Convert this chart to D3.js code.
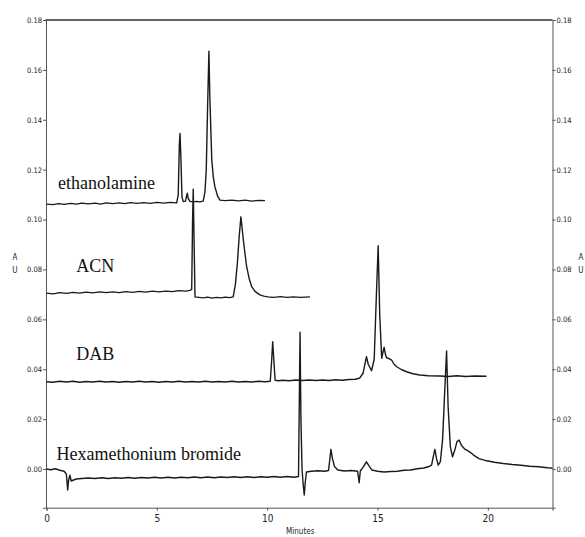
<!DOCTYPE html>
<html lang="en">
<head>
  <meta charset="utf-8">
  <title>Chromatograms</title>
  <style>
    body { margin: 0; background: #fff; }
    svg { display: block; }
    .tick text, .unit { font-family: "Liberation Sans Narrow", "DejaVu Sans Condensed", sans-serif; fill: #222; }
    .trace-label { font-family: "Liberation Serif", "DejaVu Serif", serif; font-size: 18px; fill: #111; }
  </style>
</head>
<body>
  <div id="chart"></div>
  <script src="https://d3js.org/d3.v7.min.js"></script>
  <script>
// [minutes, AU]
const ethanolamine = [
  [0,0.1062],[0.3,0.1060],[0.55,0.1064],[0.8,0.1061],[1.1,0.1065],[1.35,0.1062],[1.6,0.1066],[1.9,0.1063],
  [2.2,0.1066],[2.45,0.1062],[2.7,0.1067],[3.0,0.1064],[3.3,0.1067],[3.55,0.1064],[3.8,0.1068],[4.1,0.1065],
  [4.4,0.1068],[4.7,0.1065],[5.0,0.1069],[5.3,0.1066],[5.6,0.1069],[5.9,0.1067],[5.97,0.1100],[6.02,0.1300],
  [6.05,0.1345],[6.09,0.1250],[6.14,0.1090],[6.2,0.1072],[6.3,0.1074],[6.35,0.1095],[6.38,0.1106],[6.42,0.1085],
  [6.5,0.1073],[6.65,0.1071],[6.8,0.1073],[6.95,0.1071],[7.1,0.1074],[7.18,0.1110],[7.24,0.1200],[7.30,0.1450],
  [7.36,0.1675],[7.40,0.1500],[7.45,0.1350],[7.49,0.1239],[7.56,0.1170],[7.63,0.1132],[7.75,0.1095],[7.86,0.1078],
  [8.1,0.1076],[8.4,0.1078],[8.7,0.1075],[9.0,0.1078],[9.3,0.1074],[9.6,0.1077],[9.9,0.1076]
];

const acn = [
  [0,0.0705],[0.3,0.0702],[0.6,0.0707],[0.9,0.0704],[1.2,0.0708],[1.5,0.0705],[1.8,0.0709],[2.1,0.0706],
  [2.4,0.0710],[2.7,0.0707],[3.0,0.0710],[3.3,0.0707],[3.6,0.0711],[3.9,0.0708],[4.2,0.0712],[4.5,0.0709],
  [4.8,0.0713],[5.1,0.0710],[5.4,0.0713],[5.7,0.0711],[6.0,0.0715],[6.3,0.0713],[6.5,0.0716],[6.58,0.0720],
  [6.62,0.1000],[6.65,0.1122],[6.69,0.0900],[6.73,0.0690],[6.9,0.0688],[7.1,0.0686],[7.3,0.0689],[7.5,0.0685],
  [7.7,0.0688],[7.9,0.0686],[8.1,0.0689],[8.3,0.0687],[8.46,0.0690],[8.56,0.0740],[8.65,0.0826],[8.73,0.0930],
  [8.81,0.1011],[8.86,0.0970],[8.92,0.0918],[9.0,0.0860],[9.07,0.0811],[9.18,0.0765],[9.30,0.0731],[9.45,0.0712],
  [9.67,0.0698],[9.85,0.0693],[10.03,0.0690],[10.3,0.0688],[10.6,0.0691],[10.9,0.0688],[11.2,0.0690],[11.5,0.0688],
  [11.94,0.0690]
];

const dab = [
  [0,0.0350],[0.3,0.0348],[0.6,0.0352],[0.9,0.0349],[1.2,0.0352],[1.5,0.0348],[1.8,0.0351],[2.1,0.0349],
  [2.4,0.0352],[2.7,0.0349],[3.0,0.0351],[3.3,0.0348],[3.6,0.0351],[3.9,0.0349],[4.2,0.0352],[4.5,0.0349],
  [4.8,0.0351],[5.1,0.0348],[5.4,0.0351],[5.7,0.0349],[6.0,0.0352],[6.3,0.0349],[6.6,0.0351],[6.9,0.0349],
  [7.2,0.0352],[7.5,0.0349],[7.8,0.0351],[8.1,0.0349],[8.4,0.0352],[8.7,0.0349],[9.0,0.0351],[9.3,0.0349],
  [9.6,0.0352],[9.9,0.0350],[10.14,0.0352],[10.2,0.0430],[10.25,0.0510],[10.3,0.0440],[10.36,0.0356],[10.5,0.0354],
  [10.7,0.0356],[11.0,0.0354],[11.3,0.0357],[11.6,0.0355],[11.9,0.0357],[12.2,0.0355],[12.5,0.0357],[12.8,0.0355],
  [13.1,0.0358],[13.4,0.0356],[13.7,0.0359],[14.0,0.0360],[14.2,0.0365],[14.35,0.0385],[14.45,0.0430],[14.5,0.0450],
  [14.58,0.0420],[14.73,0.0394],[14.85,0.0440],[14.95,0.0700],[15.03,0.0895],[15.1,0.0620],[15.19,0.0444],[15.25,0.0470],
  [15.3,0.0488],[15.36,0.0460],[15.41,0.0446],[15.52,0.0443],[15.64,0.0437],[15.75,0.0420],[15.87,0.0410],[16.1,0.0398],
  [16.32,0.0390],[16.6,0.0382],[16.92,0.0377],[17.3,0.0374],[17.83,0.0373],[18.2,0.0371],[18.6,0.0374],[19.0,0.0371],
  [19.4,0.0373],[19.94,0.0372]
];

const hexamethonium = [
  [0,0.0000],[0.2,-0.0003],[0.4,0.0001],[0.6,-0.0005],[0.8,-0.0009],[0.9,-0.0020],[0.96,-0.0084],[1.0,-0.0045],
  [1.06,-0.0025],[1.12,-0.0048],[1.2,-0.0045],[1.35,-0.0040],[1.6,-0.0038],[1.9,-0.0036],[2.2,-0.0038],[2.5,-0.0035],
  [2.8,-0.0038],[3.1,-0.0035],[3.4,-0.0037],[3.7,-0.0034],[4.0,-0.0037],[4.3,-0.0034],[4.6,-0.0036],[4.9,-0.0033],
  [5.2,-0.0036],[5.5,-0.0033],[5.8,-0.0036],[6.1,-0.0033],[6.4,-0.0035],[6.7,-0.0032],[7.0,-0.0035],[7.3,-0.0032],
  [7.6,-0.0035],[7.9,-0.0032],[8.2,-0.0034],[8.5,-0.0031],[8.8,-0.0034],[9.1,-0.0031],[9.4,-0.0034],[9.7,-0.0031],
  [10.0,-0.0033],[10.3,-0.0030],[10.6,-0.0033],[10.9,-0.0030],[11.2,-0.0033],[11.42,-0.0030],[11.46,0.0300],[11.49,0.0549],
  [11.53,0.0200],[11.58,0.0000],[11.63,-0.0060],[11.68,-0.0104],[11.73,-0.0050],[11.78,-0.0012],[12.0,-0.0009],[12.3,-0.0007],
  [12.6,-0.0009],[12.78,-0.0006],[12.84,0.0040],[12.89,0.0079],[12.95,0.0045],[13.05,0.0010],[13.2,-0.0004],[13.5,-0.0008],
  [13.8,-0.0006],[14.1,-0.0009],[14.17,-0.0055],[14.22,-0.0008],[14.35,0.0008],[14.5,0.0029],[14.6,0.0015],[14.75,-0.0004],
  [15.0,-0.0009],[15.3,-0.0012],[15.6,-0.0010],[15.9,-0.0009],[16.2,-0.0005],[16.5,-0.0004],[16.8,0.0001],[17.1,0.0004],
  [17.3,0.0009],[17.45,0.0016],[17.55,0.0060],[17.6,0.0079],[17.68,0.0040],[17.75,0.0016],[17.85,0.0030],[17.95,0.0120],
  [18.05,0.0320],[18.13,0.0473],[18.2,0.0250],[18.3,0.0090],[18.4,0.0049],[18.5,0.0075],[18.6,0.0110],[18.7,0.0116],
  [18.8,0.0095],[18.95,0.0080],[19.05,0.0076],[19.25,0.0064],[19.35,0.0056],[19.6,0.0042],[19.95,0.0033],[20.3,0.0027],
  [20.7,0.0022],[21.1,0.0018],[21.5,0.0015],[21.9,0.0011],[22.3,0.0009],[22.7,0.0005],[22.93,0.0004]
];

const traceNames = ["ethanolamine", "ACN", "DAB", "Hexamethonium bromide"];
const yTicks = [0, 0.02, 0.04, 0.06, 0.08, 0.10, 0.12, 0.14, 0.16, 0.18];
const xTicks = [0, 5, 10, 15, 20];

const width = 585, height = 537;

const x = d3.scaleLinear().domain([0, 22.93]).range([46.5, 552.5]);
const y = d3.scaleLinear().domain([-0.0155, 0.18]).range([507.7, 20]);

const svg = d3.select("#chart").append("svg")
    .attr("width", width)
    .attr("height", height);

// axes
const left = svg.append("g")
    .attr("transform", `translate(${x(0) - 0.5},0)`)
    .call(d3.axisLeft(y).tickValues(yTicks).tickFormat(d3.format(".2f")).tickSize(3).tickPadding(1));
const right = svg.append("g")
    .attr("transform", `translate(${x(22.93)},0)`)
    .call(d3.axisRight(y).tickValues(yTicks).tickFormat(d3.format(".2f")).tickSize(3).tickPadding(1));
const bottom = svg.append("g")
    .attr("transform", `translate(0,${y(-0.0155)})`)
    .call(d3.axisBottom(x).tickValues(xTicks).tickSize(3).tickPadding(4));

[left, right].forEach(g => {
    g.selectAll(".tick text").style("font-size", "7.5px");
});
bottom.selectAll(".tick text").style("font-size", "10px");
[left, right, bottom].forEach(g => {
    g.select(".domain").attr("stroke", "#555").attr("stroke-width", 1);
    g.selectAll(".tick line").attr("stroke", "#555");
});

// top frame line
svg.append("line")
    .attr("x1", x(0) - 1).attr("x2", x(22.93))
    .attr("y1", y(0.18)).attr("y2", y(0.18))
    .attr("stroke", "#333").attr("stroke-width", 1.6);

// unit labels
[[15, 260], [581, 260]].forEach(p => {
    svg.append("text").attr("class", "unit").attr("x", p[0]).attr("y", p[1])
        .attr("text-anchor", "middle").style("font-size", "8px").text("A");
    svg.append("text").attr("class", "unit").attr("x", p[0]).attr("y", p[1] + 13)
        .attr("text-anchor", "middle").style("font-size", "8px").text("U");
});
svg.append("text").attr("class", "unit")
    .attr("x", x(11.5)).attr("y", 534)
    .attr("text-anchor", "middle").style("font-size", "8px").text("Minutes");

// traces
const line = d3.line().x(d => x(d[0])).y(d => y(d[1]));
[ethanolamine, acn, dab, hexamethonium].forEach(series => {
    svg.append("path")
        .datum(series)
        .attr("d", line)
        .attr("fill", "none")
        .attr("stroke", "#1a1a1a")
        .attr("stroke-width", 1.4)
        .attr("stroke-linejoin", "round");
});

// trace names, placed in data coordinates
const labelSpots = [[0.52, 0.1123], [1.35, 0.0788], [1.35, 0.0436], [0.45, 0.0036]];
traceNames.forEach((name, i) => {
    svg.append("text")
        .attr("class", "trace-label")
        .attr("x", x(labelSpots[i][0]))
        .attr("y", y(labelSpots[i][1]))
        .text(name);
});
  </script>
</body>
</html>
